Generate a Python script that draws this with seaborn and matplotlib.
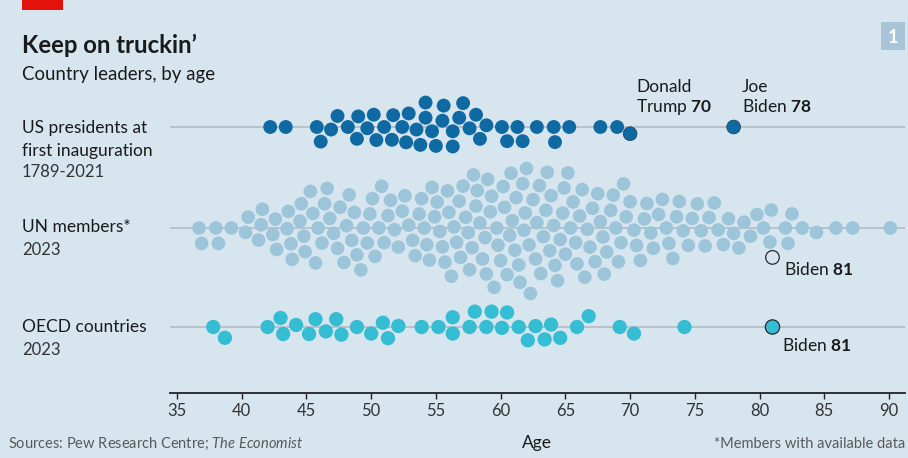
import matplotlib
matplotlib.use("Agg")
import matplotlib.pyplot as plt
import seaborn as sns
from matplotlib.patches import Rectangle

# ---------------------------------------------------------------- data
# US presidents: age at first inauguration (Trump and Biden kept apart)
us_ages = [42.2, 43.4, 45.8, 46.1, 46.9, 47.4, 48.2, 48.9, 49.0, 49.7,
           50.2, 50.4, 51.0, 51.6, 51.7, 52.4, 52.7, 52.9, 53.5, 53.8,
           54.2, 54.2, 54.7, 55.0, 55.5, 55.6, 56.3, 56.3, 56.8, 57.1,
           57.6, 58.1, 58.4, 58.9, 60.1, 60.5, 61.3, 61.7, 62.8, 64.1,
           64.2, 65.3, 67.7, 69.0]
trump_age = 70
biden_inauguration_age = 78

# Leaders of UN member states, 2023
un_ages = [36.7, 36.9, 38.0, 38.2, 39.2, 40.3, 40.5, 41.3, 41.5, 41.6,
           42.4, 42.6, 42.7, 43.5, 43.6, 43.8, 43.9, 44.5, 44.6, 44.8,
           44.9, 45.3, 45.5, 45.7, 45.9, 46.2, 46.4, 46.6, 46.8, 47.1,
           47.4, 47.6, 47.9, 48.1, 48.3, 48.5, 48.7, 48.9, 49.2, 49.4,
           49.7, 49.9, 50.1, 50.3, 50.6, 50.8, 51.0, 51.3, 51.5, 51.8,
           52.1, 52.4, 52.6, 52.9, 53.2, 53.4, 53.7, 53.9, 54.1, 54.3,
           54.5, 54.7, 54.9, 55.1, 55.3, 55.5, 55.7, 55.9, 56.0, 56.2,
           56.4, 56.6, 56.8, 56.9, 57.1, 57.3, 57.5, 57.6, 57.8, 57.9,
           58.1, 58.2, 58.4, 58.6, 58.8, 58.9, 59.0, 59.2, 59.3, 59.5,
           59.7, 59.8, 60.0, 60.2, 60.3, 60.5, 60.7, 60.8, 60.9, 61.1,
           61.2, 61.4, 61.5, 61.7, 61.8, 61.9, 62.0, 62.2, 62.3, 62.5,
           62.7, 62.8, 63.0, 63.1, 63.3, 63.5, 63.6, 63.8, 63.9, 64.1,
           64.2, 64.4, 64.6, 64.8, 64.9, 65.0, 65.2, 65.4, 65.6, 65.8,
           65.9, 66.1, 66.3, 66.5, 66.7, 66.9, 67.1, 67.3, 67.5, 67.7,
           67.9, 68.0, 68.2, 68.5, 68.7, 68.9, 69.1, 69.3, 69.5, 69.7,
           70.0, 70.3, 70.5, 70.8, 71.1, 71.3, 71.6, 71.8, 72.2, 72.5,
           72.8, 73.0, 73.3, 73.6, 73.8, 74.1, 74.5, 74.8, 75.2, 75.5,
           75.8, 76.1, 76.5, 76.8, 77.2, 77.6, 78.0, 78.4, 78.8, 79.3,
           79.8, 80.3, 80.8, 80.9, 82.0, 82.2, 82.5, 83.3, 84.4, 85.9,
           87.2, 90.1]

# Leaders of OECD countries, 2023 (Biden kept apart)
oecd_ages = [37.8, 38.7, 42.0, 43.0, 43.2, 44.2, 45.2, 45.7, 46.5, 47.3,
             47.7, 48.9, 50.0, 50.9, 51.3, 52.1, 53.9, 55.2, 56.3, 56.3,
             57.6, 58.0, 58.9, 59.3, 60.1, 60.5, 61.4, 62.1, 62.7, 63.4,
             63.9, 64.6, 65.9, 66.8, 69.2, 70.3, 74.2]
biden_age_2023 = 81

tick_ages = [35, 40, 45, 50, 55, 60, 65, 70, 75, 80, 85, 90]

# ---------------------------------------------------------------- style
W, H, DPI = 908, 458, 100
BG = "#d7e5ee"
INK = "#1a1a1a"
GREY_LINE = "#b3bcc3"
US_BLUE = "#0f6aa3"
UN_BLUE = "#9cc5d9"
OECD_CYAN = "#35bdd3"
OUTLINE = "#1d2b36"

sns.set_theme(style="white")
plt.rcParams["font.family"] = ["Lato", "DejaVu Sans"]
plt.rcParams["mathtext.fontset"] = "custom"
plt.rcParams["mathtext.rm"] = "Lato"
plt.rcParams["mathtext.bf"] = "Lato:bold"
plt.rcParams["mathtext.it"] = "Lato:italic"

fig = plt.figure(figsize=(W / DPI, H / DPI), dpi=DPI, facecolor=BG)

# full-figure canvas in pixel units for text and decorations
canvas = fig.add_axes([0, 0, 1, 1], label="canvas", zorder=0)
canvas.set_xlim(0, W)
canvas.set_ylim(H, 0)
canvas.axis("off")
canvas.patch.set_alpha(0)

# plotting band shared by the three swarms
PL, PR, PT, PB = 170, 905, 80, 393
XMIN = 35 - (177 - PL) / 12.945
XMAX = 90 + (PR - 889) / 12.945
PX_PER_UNIT = 170.0   # vertical scale of the strip axis, so the swarm has room
band = [PL / W, 1 - PB / H, (PR - PL) / W, (PB - PT) / H]


def swarm_row(name, values, highlights, centre_px, colour, dot_pt, pad_pt):
    """Draw one beeswarm row; highlights are (age, facecolor) pairs."""
    ax = fig.add_axes(band, label=name, zorder=2)
    ax.set_xlim(XMIN, XMAX)
    data = list(values) + [h[0] for h in highlights]
    ax.axhline(0, color=GREY_LINE, lw=1.2, zorder=1)
    sns.swarmplot(x=data, ax=ax, color=colour, size=dot_pt,
                  linewidth=pad_pt, zorder=3, warn_thresh=1)
    pts = ax.collections[-1]
    n = len(values)
    # regular dots carry an invisible rim (spacing); highlighted ones an outline
    pts.set_facecolors([colour] * n + [h[1] for h in highlights])
    pts.set_edgecolors(["none"] * n + [OUTLINE] * len(highlights))
    ax.set_xlim(XMIN, XMAX)
    ax.set_ylim(-(PB - centre_px) / PX_PER_UNIT, (centre_px - PT) / PX_PER_UNIT)
    ax.patch.set_alpha(0)
    ax.set_yticks([])
    for s in ax.spines.values():
        s.set_visible(False)
    return ax


ax_us = swarm_row("us", us_ages,
                  [(trump_age, US_BLUE), (biden_inauguration_age, US_BLUE)],
                  127, US_BLUE, 10.0, 0.4)
ax_un = swarm_row("un", un_ages, [(biden_age_2023, BG)],
                  228, UN_BLUE, 9.8, 0.9)
ax_oecd = swarm_row("oecd", oecd_ages, [(biden_age_2023, OECD_CYAN)],
                    327, OECD_CYAN, 10.3, 0.9)

for ax in (ax_us, ax_un):
    ax.set_xticks([])

ax_oecd.spines["bottom"].set_visible(True)
ax_oecd.spines["bottom"].set_color("#222222")
ax_oecd.spines["bottom"].set_linewidth(1.3)
ax_oecd.set_xticks(tick_ages)
ax_oecd.set_xticklabels([str(t) for t in tick_ages])
ax_oecd.tick_params(axis="x", bottom=True, length=4.5, width=1.0,
                    color="#222222", labelsize=12, labelcolor="#333333", pad=3)

# ---------------------------------------------------------------- text
canvas.add_patch(Rectangle((22, 0), 41, 10, color="#e3120b", lw=0))
canvas.text(22, 53, "Keep on truckin\u2019", fontsize=17.2, weight="bold",
            color=INK, va="baseline")
canvas.text(22, 80, "Country leaders, by age", fontsize=13.4,
            color=INK, va="baseline")

canvas.add_patch(Rectangle((881, 22), 24, 28, color="#a8c5d8", lw=0))
canvas.text(893, 43, "1", fontsize=13, weight="bold", color="white",
            ha="center", va="baseline")

row_kw = dict(fontsize=12.5, color=INK, va="baseline")
canvas.text(22, 133, "US presidents at", **row_kw)
canvas.text(22, 156, "first inauguration", **row_kw)
canvas.text(22, 177, "1789-2021", fontsize=12, color="#333333", va="baseline")
canvas.text(22, 232, "UN members*", **row_kw)
canvas.text(22, 255, "2023", fontsize=12, color="#333333", va="baseline")
canvas.text(22, 332, "OECD countries", **row_kw)
canvas.text(22, 355, "2023", fontsize=12, color="#333333", va="baseline")

note_kw = dict(fontsize=12.5, color=INK, va="baseline")
canvas.text(636, 92, "Donald", **note_kw)
canvas.text(636, 112, r"Trump $\mathbf{%d}$" % trump_age, **note_kw)
canvas.text(742, 92, "Joe", **note_kw)
canvas.text(742, 112, r"Biden $\mathbf{%d}$" % biden_inauguration_age, **note_kw)
canvas.text(784, 275, r"Biden $\mathbf{%d}$" % biden_age_2023, **note_kw)
canvas.text(782, 351, r"Biden $\mathbf{%d}$" % biden_age_2023, **note_kw)

foot_kw = dict(fontsize=10.5, color="#595959", va="baseline")
canvas.text(8, 448, r"Sources: Pew Research Centre; $\mathit{The\ Economist}$",
            **foot_kw)
canvas.text(905, 448, "*Members with available data", ha="right", **foot_kw)
canvas.text(537, 448, "Age", fontsize=12.5, color=INK, ha="center",
            va="baseline")

fig.savefig("out.png", dpi=DPI, facecolor=BG)
